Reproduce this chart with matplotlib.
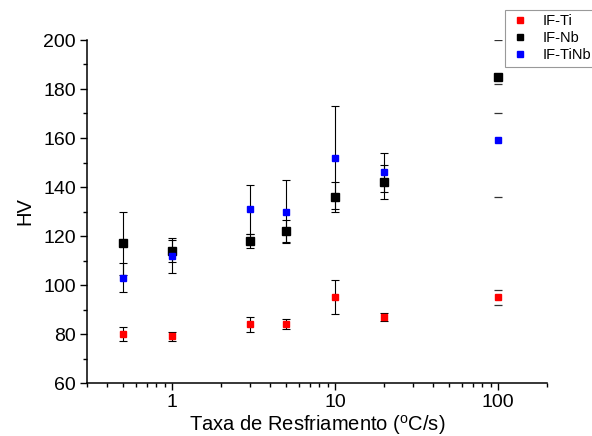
import matplotlib
matplotlib.use('Agg')
import matplotlib.pyplot as plt
from matplotlib.ticker import FixedLocator, LogLocator, NullFormatter, FuncFormatter

plt.rcParams['font.family'] = ['Liberation Sans', 'DejaVu Sans']
plt.rcParams['mathtext.fontset'] = 'custom'
plt.rcParams['mathtext.rm'] = 'Liberation Sans'
plt.rcParams['mathtext.default'] = 'regular'

# taxa de resfriamento (oC/s)
taxa = [0.5, 1, 3, 5, 10, 20, 100]

hv_ti = [80, 79, 84, 84, 95, 87, 95]
err_ti = [3, 2, 3, 2, 7, 1.5, 3]

hv_nb = [117, 114, 118, 122, 136, 142, 185]
err_nb = [13, 4.5, 3, 4.5, 6, 7, 15]

hv_tinb = [103, 112, 131, 130, 152, 146, 159]
err_tinb = [6, 7, 10, 13, 21, 8, 23]

series = [
    ('IF-Ti', hv_ti, err_ti, '#ff0000', 4.6),
    ('IF-Nb', hv_nb, err_nb, 'black', 5.8),
    ('IF-TiNb', hv_tinb, err_tinb, '#0000ff', 4.6),
]

fig = plt.figure(figsize=(5.92, 4.36), dpi=100)
ax = fig.add_axes([87/592, 1-383/436, 460/592, 343/436])

handles = []
for nome, hv, err, cor, ms in series:
    # pontos ate 20 C/s com barra completa
    ax.errorbar(taxa[:-1], hv[:-1], yerr=err[:-1], fmt='none', ecolor='black',
                elinewidth=0.8, capsize=3, capthick=0.8, zorder=2)
    # em 100 C/s so aparecem os tracos
    ax.errorbar(taxa[-1:], hv[-1:], yerr=err[-1:], fmt='none', ecolor='#333333',
                elinewidth=0, capsize=3, capthick=0.9, zorder=2)
    h, = ax.plot(taxa, hv, 's', color=cor, ms=ms, mec=cor, label=nome, zorder=3)
    handles.append(h)

ax.set_xscale('log')
ax.set_xlim(0.3, 200)
ax.set_ylim(60, 200)
ax.xaxis.set_major_locator(FixedLocator([1, 10, 100]))
ax.xaxis.set_major_formatter(FuncFormatter(lambda v, p: f'{v:g}'))
ax.xaxis.set_minor_locator(LogLocator(base=10, subs=range(2, 10)))
ax.xaxis.set_minor_formatter(NullFormatter())
ax.set_yticks(range(60, 201, 20))
ax.set_yticks(range(70, 200, 20), minor=True)

for s in ['top', 'right']:
    ax.spines[s].set_visible(False)
for s in ['left', 'bottom']:
    ax.spines[s].set_linewidth(1.1)

ax.tick_params(which='major', direction='out', length=5, width=1.0, labelsize=14, pad=3)
ax.tick_params(which='minor', direction='out', length=3, width=1.0)

ax.set_xlabel('Taxa de Resfriamento ($^{o}$C/s)', fontsize=14.5, labelpad=1)
ax.set_ylabel('HV', fontsize=14.5, labelpad=6)

leg = fig.legend(handles=handles, loc='upper left',
                 bbox_to_anchor=(505/592, 1-10/436), bbox_transform=fig.transFigure,
                 borderaxespad=0, frameon=True, fancybox=False, fontsize=10.5,
                 handletextpad=0.8, markerscale=0.8, labelspacing=0.2,
                 borderpad=0.3, handlelength=1.5)
leg.get_frame().set_edgecolor('#808080')
leg.get_frame().set_linewidth(0.8)

fig.savefig('out.png', dpi=100)
